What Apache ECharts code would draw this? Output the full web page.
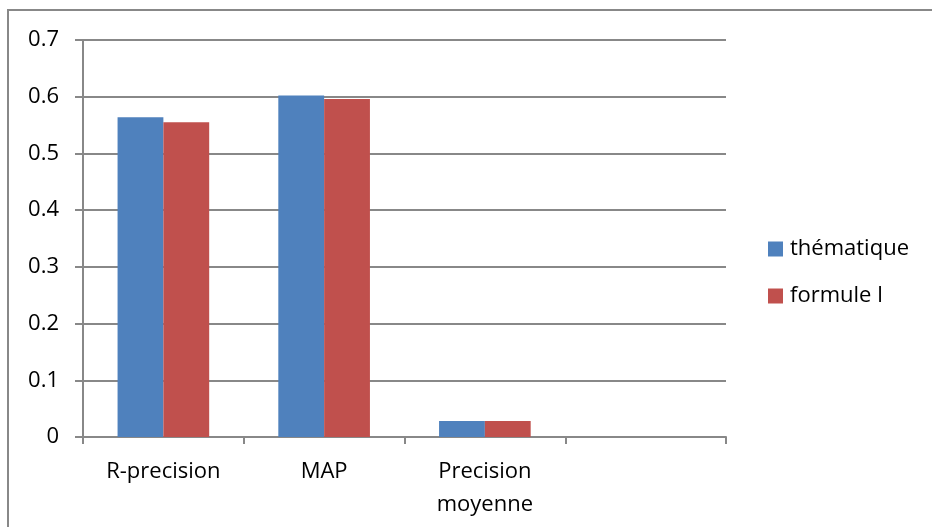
<!DOCTYPE html>
<html>
<head>
<meta charset="utf-8">
<script src="https://cdn.jsdelivr.net/npm/echarts@6/dist/echarts.min.js"></script>
<style>
  html, body { margin: 0; padding: 0; background: #ffffff; }
  #chart { width: 932px; height: 527px; }
</style>
</head>
<body>
<div id="chart"></div>
<script>
// Categories along the x axis (the fourth slot is left empty)
const categories = ['R-precision', 'MAP', 'Precision\nmoyenne', ''];

// Series values
const thematique = [0.564, 0.602, 0.028, null];
const formuleI = [0.555, 0.596, 0.028, null];

// Value-axis range and step
const yMin = 0;
const yMax = 0.7;
const yStep = 0.1;

const FONT = 'Open Sans';
const AXIS_GREY = '#888888';

const chart = echarts.init(document.getElementById('chart'));
chart.setOption({
  animation: false,
  backgroundColor: '#ffffff',
  textStyle: { fontFamily: FONT },
  graphic: [{
    type: 'rect',
    shape: { x: 8, y: 10, width: 940, height: 540 },
    style: { fill: 'none', stroke: AXIS_GREY, lineWidth: 2 },
    silent: true,
    z: -10
  }],
  grid: { left: 83, right: 206, top: 40, bottom: 90, containLabel: false },
  legend: {
    orient: 'vertical',
    left: 768,
    top: 238,
    padding: 0,
    itemWidth: 15,
    itemHeight: 15,
    itemGap: 25,
    icon: 'rect',
    textStyle: { fontFamily: FONT, fontSize: 22, color: '#000000', padding: [0, 0, 0, 2] },
    data: ['thématique', 'formule I']
  },
  xAxis: {
    type: 'category',
    data: categories,
    axisLine: { lineStyle: { color: AXIS_GREY, width: 2 } },
    axisTick: { show: true, length: 7, interval: 0, lineStyle: { color: AXIS_GREY, width: 2 } },
    axisLabel: {
      interval: 0,
      color: '#000000',
      fontFamily: FONT,
      fontSize: 22,
      lineHeight: 33,
      margin: 18
    }
  },
  yAxis: {
    type: 'value',
    min: yMin,
    max: yMax,
    interval: yStep,
    axisLine: { show: true, lineStyle: { color: AXIS_GREY, width: 2 } },
    axisTick: { show: true, length: 8, inside: false, lineStyle: { color: AXIS_GREY, width: 2 } },
    splitLine: { lineStyle: { color: AXIS_GREY, width: 2 } },
    axisLabel: {
      color: '#000000',
      fontFamily: FONT,
      fontSize: 22,
      margin: 24,
      formatter: v => (Math.round(v * 10) / 10).toString()
    }
  },
  series: [
    {
      name: 'thématique',
      type: 'bar',
      data: thematique,
      barGap: '0%',
      barCategoryGap: '43%',
      itemStyle: { color: '#4F81BD' }
    },
    {
      name: 'formule I',
      type: 'bar',
      data: formuleI,
      barGap: '0%',
      barCategoryGap: '43%',
      itemStyle: { color: '#C0504D' }
    }
  ]
});
</script>
</body>
</html>
